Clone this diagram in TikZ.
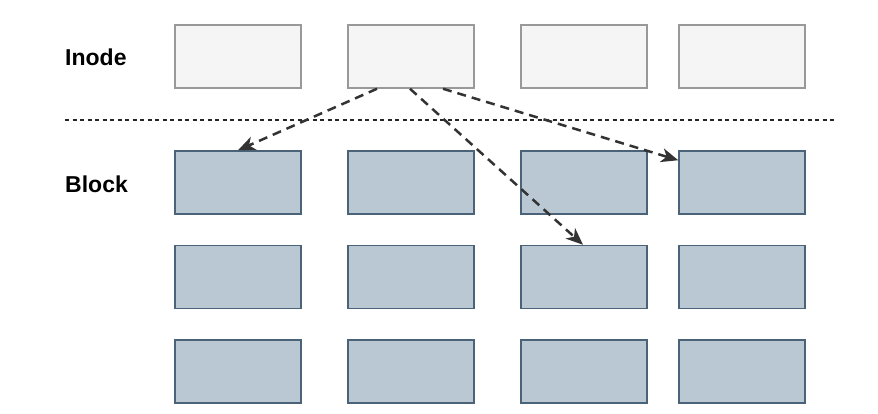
\documentclass[tikz,border=0pt]{standalone}
\usepackage{fontspec}
\setmainfont{Liberation Sans}
\usetikzlibrary{arrows.meta}
\definecolor{inodefill}{HTML}{F5F5F5}
\definecolor{inodedraw}{HTML}{999999}
\definecolor{blockfill}{HTML}{BAC8D3}
\definecolor{blockdraw}{HTML}{4A6378}
\definecolor{arrowc}{HTML}{333333}
\tikzset{
  inodebox/.style={draw=inodedraw, fill=inodefill, line width=1.5pt, minimum width=126pt, minimum height=63pt, inner sep=0pt},
  blockbox/.style={draw=blockdraw, fill=blockfill, line width=1.5pt, minimum width=126pt, minimum height=63pt, inner sep=0pt},
  lbl/.style={font=\fontsize{23}{26}\selectfont\bfseries, anchor=west, inner sep=0pt},
  ptr/.style={draw=arrowc, line width=2.5pt, dash pattern=on 9pt off 6pt, -{Stealth[length=17pt,width=14pt,inset=5pt]}},
  sep/.style={draw=black!85, line width=1.2pt, dash pattern=on 4pt off 3.5pt}
}
\begin{document}
\begin{tikzpicture}[x=1pt,y=-1pt]
\useasboundingbox (0,0) rectangle (878,414);
% labels
\node[lbl] (lin) at (65,57) {Inode};
\node[lbl] (lbk) at (65,184) {Block};
% separator
\coordinate (s1) at (65,120);
\coordinate (s2) at (836,120);
\draw[sep] (s1) -- (s2);
% inodes
\node[inodebox] (i1) at (238,56.5) {};
\node[inodebox] (i2) at (411,56.5) {};
\node[inodebox] (i3) at (584,56.5) {};
\node[inodebox] (i4) at (742,56.5) {};
% blocks
\foreach \r/\y in {1/182.5,2/277,3/371.5}{
  \node[blockbox] (b\r1) at (238,\y) {};
  \node[blockbox] (b\r2) at (411,\y) {};
  \node[blockbox] (b\r3) at (584,\y) {};
  \node[blockbox] (b\r4) at (742,\y) {};
}
% pointers
\draw[ptr] ([xshift=-34pt]i2.south) -- ([xshift=0pt]b11.north);
\draw[ptr] ([xshift=-1pt]i2.south) -- ([xshift=-1pt]b23.north);
\draw[ptr] ([xshift=32pt]i2.south) -- ([yshift=-10pt]b14.north west);
\end{tikzpicture}
\end{document}
